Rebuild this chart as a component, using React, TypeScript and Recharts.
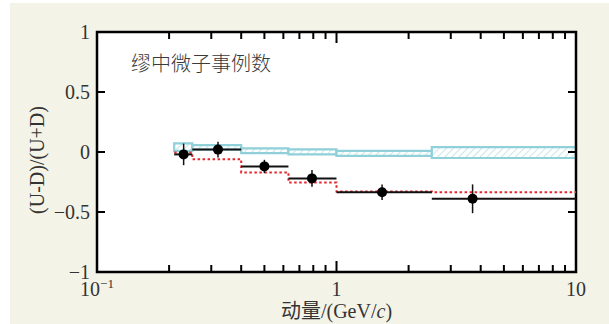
import React from "react";
import {
  ComposedChart,
  XAxis,
  YAxis,
  Line,
  Scatter,
  ErrorBar,
  ReferenceArea,
  Label,
} from "recharts";

// momentum bins (GeV/c) and per-bin values
const binEdges = [0.21, 0.25, 0.4, 0.63, 1.0, 2.5, 10];
const pointX = [0.23, 0.32, 0.5, 0.79, 1.55, 3.7];
const asymmetry = [-0.02, 0.02, -0.12, -0.22, -0.335, -0.39];
const asymmetryErr = [0.09, 0.065, 0.055, 0.07, 0.065, 0.12];
const mcAsymmetry = [-0.005, -0.06, -0.17, -0.255, -0.33, -0.335];
const bandLow = [0.01, 0.02, -0.01, -0.02, -0.033, -0.05];
const bandHigh = [0.072, 0.058, 0.03, 0.022, 0.01, 0.04];

const xMajorTicks = [0.1, 1, 10];
const xMinorTicks = [0.2, 0.3, 0.4, 0.5, 0.6, 0.7, 0.8, 0.9, 2, 3, 4, 5, 6, 7, 8, 9];
const yTicks = [-1, -0.5, 0, 0.5, 1];

const points = pointX.map((x, i) => ({
  x,
  y: asymmetry[i],
  ex: [x - binEdges[i], binEdges[i + 1] - x],
  ey: asymmetryErr[i],
}));

const mcSteps = binEdges.map((x, i) => ({
  x,
  y: mcAsymmetry[Math.min(i, mcAsymmetry.length - 1)],
}));

const bands = bandLow.map((lo, i) => ({
  x1: binEdges[i],
  x2: binEdges[i + 1],
  y1: lo,
  y2: bandHigh[i],
}));

// layout
const W = 609;
const H = 324;
const MARGIN = { top: 32, right: 33, bottom: 22, left: 37 };
const X_AXIS_H = 30;
const Y_AXIS_W = 60;
const PLOT_X = MARGIN.left + Y_AXIS_W;
const PLOT_W = W - MARGIN.left - MARGIN.right - Y_AXIS_W;
const PLOT_H = H - MARGIN.top - MARGIN.bottom - X_AXIS_H;

const INK = "#333";
const SERIF = "'Liberation Serif', 'Times New Roman', serif";
const CJK = "'Liberation Serif', 'Noto Sans CJK SC', serif";

const fmtY = (v: number) => (v < 0 ? "\u2212" + Math.abs(v) : String(v));

// bottom axis tick: inward marks on bottom and top edges, label on majors only
const XTick = (props: any) => {
  const { x, y, payload } = props;
  const v = payload.value;
  const major = xMajorTicks.includes(v);
  const len = major ? 11 : 7;
  const top = y - PLOT_H;
  return (
    <g>
      <path d={`M${x},${y}V${y - len}`} stroke="black" strokeWidth={2} />
      <path d={`M${x},${top}V${top + len}`} stroke="black" strokeWidth={2} />
      {major && (
        <text x={x} y={y + 24} textAnchor="middle" fontFamily={SERIF} fontSize={20} fill={INK}>
          {v === 0.1 ? (
            <>
              10
              <tspan dy={-8} fontSize={13}>
                {"\u22121"}
              </tspan>
            </>
          ) : (
            String(v)
          )}
        </text>
      )}
    </g>
  );
};

// left axis tick: inward marks on left and right edges plus label
const YTick = (props: any) => {
  const { x, y, payload } = props;
  const right = x + PLOT_W;
  return (
    <g>
      <line x1={x} y1={y} x2={x + 8} y2={y} stroke="black" strokeWidth={2} />
      <line x1={right} y1={y} x2={right - 8} y2={y} stroke="black" strokeWidth={2} />
      <text x={x - 7} y={y} dy={7} textAnchor="end" fontFamily={SERIF} fontSize={20} fill={INK}>
        {fmtY(payload.value)}
      </text>
    </g>
  );
};

const XTitle = (props: any) => {
  const vb = props.viewBox;
  return (
    <text x={vb.x + vb.width / 2} y={vb.y + 46} textAnchor="middle" fontFamily={CJK} fontSize={20} fill={INK}>
      动量/(GeV/<tspan fontStyle="italic">c</tspan>)
    </text>
  );
};

const YTitle = (props: any) => {
  const vb = props.viewBox;
  const cx = vb.x + 7;
  const cy = vb.y + vb.height / 2 + 8;
  return (
    <text
      x={cx}
      y={cy}
      textAnchor="middle"
      transform={`rotate(-90, ${cx}, ${cy})`}
      fontFamily={SERIF}
      fontSize={20}
      fill={INK}
    >
      (U-D)/(U+D)
    </text>
  );
};

const Dot = (props: any) => <circle cx={props.cx} cy={props.cy} r={5} fill="#000" />;

export default function App() {
  return (
    <div style={{ position: "absolute", left: 0, top: 0, width: W, height: H, background: "#fff" }}>
      <div style={{ position: "absolute", left: 10, top: 3, right: 0, bottom: 0, background: "#f4f3e8" }} />
      <div style={{ position: "absolute", left: PLOT_X, top: MARGIN.top, width: PLOT_W, height: PLOT_H, background: "#fff" }} />
      <div style={{ position: "absolute", left: 0, top: 0 }}>
        <ComposedChart width={W} height={H} margin={MARGIN}>
          <defs>
            <pattern id="hatch" patternUnits="userSpaceOnUse" width="5" height="5" patternTransform="rotate(45)">
              <rect width="5" height="5" fill="#fff" />
              <line x1="0" y1="0" x2="0" y2="5" stroke="#b3dfe5" strokeWidth="1.5" />
            </pattern>
          </defs>

          <XAxis
            dataKey="x"
            type="number"
            scale="log"
            domain={[0.1, 10]}
            allowDataOverflow
            ticks={[...xMajorTicks, ...xMinorTicks]}
            interval={0}
            tickSize={0}
            tickMargin={0}
            tickLine={false}
            axisLine={false}
            height={X_AXIS_H}
            tick={<XTick />}
          >
            <Label content={<XTitle />} />
          </XAxis>
          <YAxis
            dataKey="y"
            type="number"
            domain={[-1, 1]}
            allowDataOverflow
            ticks={yTicks}
            interval={0}
            tickSize={0}
            tickMargin={0}
            tickLine={false}
            axisLine={false}
            width={Y_AXIS_W}
            tick={<YTick />}
          >
            <Label content={<YTitle />} />
          </YAxis>

          {bands.map((b, i) => (
            <ReferenceArea
              key={i}
              x1={b.x1}
              x2={b.x2}
              y1={b.y1}
              y2={b.y2}
              fill="url(#hatch)"
              fillOpacity={1}
              stroke="#8fd0d9"
              strokeWidth={2.2}
            />
          ))}

          <Line
            data={mcSteps}
            dataKey="y"
            type="stepAfter"
            stroke="#e8262e"
            strokeWidth={2}
            strokeDasharray="2.5 2.5"
            dot={false}
            activeDot={false}
            isAnimationActive={false}
          />

          <Scatter data={points} shape={<Dot />} isAnimationActive={false}>
            <ErrorBar dataKey="ex" direction="x" width={0} stroke="#111" strokeWidth={2} isAnimationActive={false} />
            <ErrorBar dataKey="ey" direction="y" width={0} stroke="#111" strokeWidth={1.5} isAnimationActive={false} />
          </Scatter>

          {/* plot frame */}
          <ReferenceArea x1={0.1} x2={10} y1={-1} y2={1} fill="none" fillOpacity={0} stroke="black" strokeOpacity={1} strokeWidth={2.5} />

          <text x={131} y={71} fontFamily={CJK} fontSize={20} fontWeight={300} fill="#3a3a3a">
            缪中微子事例数
          </text>
        </ComposedChart>
      </div>
    </div>
  );
}
